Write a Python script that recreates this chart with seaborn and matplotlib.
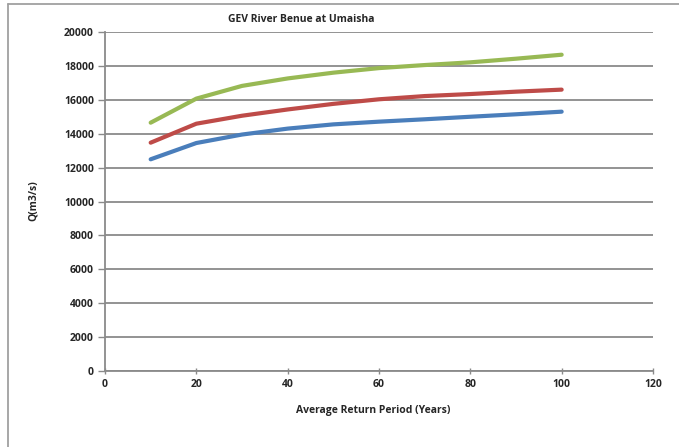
import matplotlib
matplotlib.use("Agg")
import matplotlib.pyplot as plt
from matplotlib.lines import Line2D
import seaborn as sns
import pandas as pd

# Return periods (years) and GEV discharge estimates (m3/s)
return_period = [10, 20, 30, 40, 50, 60, 70, 80, 90, 100]
q_series1 = [12490, 13450, 13950, 14300, 14550, 14710, 14850, 15000, 15145, 15300]
q_series2 = [13470, 14590, 15060, 15430, 15760, 16030, 16220, 16340, 16480, 16600]
q_series3 = [14650, 16070, 16820, 17260, 17600, 17870, 18050, 18210, 18425, 18660]
series_names = ["Series1", "Series2", "Series3"]
colors = ["#4A7EBB", "#BE4B48", "#98B954"]

x_ticks = [0, 20, 40, 60, 80, 100, 120]
y_ticks = list(range(0, 20001, 2000))

df = pd.concat([
    pd.DataFrame({"T": return_period, "Q": q, "series": name})
    for q, name in zip([q_series1, q_series2, q_series3], series_names)
])

sns.set_theme(style="white")
plt.rcParams["font.family"] = ["Open Sans", "DejaVu Sans"]

fig = plt.figure(figsize=(6.79, 4.47), dpi=100)
ax = fig.add_axes([105 / 679, 1 - 371 / 447, 548 / 679, 339 / 447])

sns.lineplot(data=df, x="T", y="Q", hue="series", palette=colors,
             linewidth=3.0, legend=False, ax=ax, solid_capstyle="round",
             solid_joinstyle="round")

ax.set_xlim(0, 120)
ax.set_ylim(0, 20000)
ax.set_xticks(x_ticks)
ax.set_yticks(y_ticks)
ax.set_xticklabels([str(v) for v in x_ticks], fontsize=7.5, fontweight="bold")
ax.set_yticklabels([str(v) for v in y_ticks], fontsize=7.5, fontweight="bold")

ax.yaxis.grid(True, color="#8a8a8a", linewidth=1.3)
ax.xaxis.grid(False)
ax.set_axisbelow(True)
for side in ["top", "right"]:
    ax.spines[side].set_visible(False)
for side in ["left", "bottom"]:
    ax.spines[side].set_color("#8a8a8a")
    ax.spines[side].set_linewidth(1.3)

ax.tick_params(axis="y", which="both", left=True, length=5, width=1, color="#8a8a8a", pad=3)
ax.tick_params(axis="x", which="both", bottom=True, length=4, width=1, color="#8a8a8a",
               direction="inout", pad=4)

ax.set_xlabel("")
ax.set_ylabel("")
fig.text(373 / 679, 1 - 410 / 447, "Average Return Period (Years)", ha="center", va="center",
         fontsize=7.5, fontweight="bold")
fig.text(33 / 679, 1 - 201 / 447, "Q(m3/s)", ha="center", va="center", rotation=90,
         fontsize=7.5, fontweight="bold")
fig.text(301 / 679, 1 - 19 / 447, "GEV River Benue at Umaisha", ha="center", va="center",
         fontsize=7.5, fontweight="bold")

# Chart-area frame (top and left edges)
fig.add_artist(Line2D([7.5 / 679, 7.5 / 679], [0, 1 - 4 / 447], color="#a0a0a0", linewidth=1.3,
                      transform=fig.transFigure))
fig.add_artist(Line2D([7.5 / 679, 1], [1 - 4 / 447, 1 - 4 / 447], color="#a0a0a0", linewidth=1.3,
                      transform=fig.transFigure))

fig.savefig("out.png", dpi=100, facecolor="white")
